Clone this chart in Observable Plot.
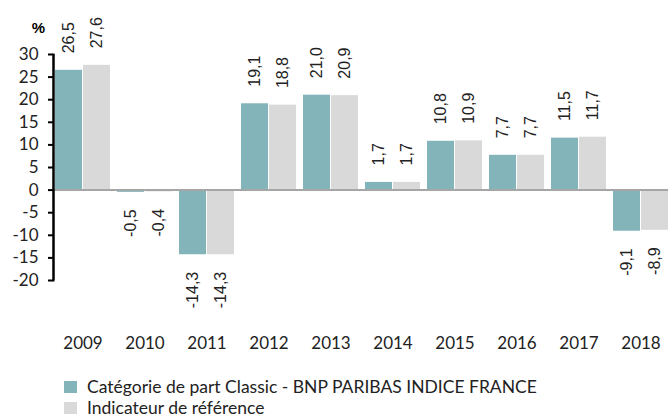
<!DOCTYPE html>
<html>
<head>
<meta charset="utf-8">
<script src="https://cdn.jsdelivr.net/npm/d3@7"></script>
<script src="https://cdn.jsdelivr.net/npm/@observablehq/plot@0.6"></script>
<style>
  html, body { margin: 0; padding: 0; background: #fff; }
  #chart svg { display: block; overflow: visible; }
  .legend { font-family: Lato, "Open Sans", sans-serif; font-size: 17.5px; color: #222; margin-left: 64px; margin-top: 0px; }
  .legend .row { display: flex; align-items: center; height: 21px; }
  .legend .sw { width: 13px; height: 12px; margin-right: 10px; }
</style>
</head>
<body>
<div id="chart"></div>
<div class="legend">
  <div class="row"><span class="sw" style="background:#82b4ba"></span><span>Catégorie de part Classic - BNP PARIBAS INDICE FRANCE</span></div>
  <div class="row"><span class="sw" style="background:#d9d9d9"></span><span>Indicateur de référence</span></div>
</div>
<script>
const years = ["2009","2010","2011","2012","2013","2014","2015","2016","2017","2018"];
const fund  = [26.5, -0.5, -14.3, 19.1, 21.0, 1.7, 10.8, 7.7, 11.5, -9.1];
const bench = [27.6, -0.4, -14.3, 18.8, 20.9, 1.7, 10.9, 7.7, 11.7, -8.9];
const yTicks = [-20, -15, -10, -5, 0, 5, 10, 15, 20, 25, 30];

const teal = "#82b4ba";
const grey = "#d9d9d9";

const data = years.map((y, i) => ({year: y, fund: fund[i], bench: bench[i]}));
const fmt = v => v.toFixed(1).replace(".", ",");

const marginLeft = 53;
const xRange = [52, 672];
const pIn = 0.11, pOut = 0.055;
const xs = d3.scaleBand(years, xRange).paddingInner(pIn).paddingOuter(pOut).round(true);
const bw = xs.bandwidth();
const half = bw / 2;
const axisDx = marginLeft - (xs(years[0]) + half);

const H = 376;
const yTop = 54, yBot = 280;

const labelFont = "'Liberation Sans', Arial, sans-serif";

const chart = Plot.plot({
  width: 668,
  height: H,
  marginLeft,
  marginRight: 0,
  marginTop: yTop,
  marginBottom: H - yBot,
  style: {fontFamily: "Lato, 'Open Sans', sans-serif", fontSize: "17px", color: "#222"},
  x: {domain: years, range: xRange, paddingInner: pIn, paddingOuter: pOut, label: null},
  y: {domain: [-20, 30], range: [yBot, yTop], ticks: yTicks, label: null},
  marks: [
    Plot.barY(data, {x: "year", y: "fund", fill: teal, insetRight: half + 0.5}),
    Plot.barY(data, {x: "year", y: "bench", fill: grey, insetLeft: half + 0.5}),
    Plot.ruleY([0], {stroke: "#a6a6a6", strokeWidth: 2}),
    Plot.axisY({ticks: yTicks, tickSize: 5, tickPadding: 10, tickFormat: d => String(d), strokeWidth: 2, stroke: "#000", fontSize: 17}),
    Plot.frame({anchor: "left", stroke: "#000", strokeWidth: 2}),
    Plot.ruleX([years[0]], {x: d => d, y1: -20, y2: 30, dx: axisDx, stroke: "#000", strokeWidth: 2}),
    Plot.axisX({tickSize: 0, tickPadding: 56, fontSize: 17}),
    Plot.text(data.filter(d => d.fund >= 0), {x: "year", y: "fund", text: d => fmt(d.fund), rotate: -90, textAnchor: "start", dx: -half/2, dy: -17, fontSize: 16, fontFamily: labelFont, fill: "#222"}),
    Plot.text(data.filter(d => d.fund < 0), {x: "year", y: "fund", text: d => fmt(d.fund), rotate: -90, textAnchor: "end", dx: -half/2, dy: 17, fontSize: 16, fontFamily: labelFont, fill: "#222"}),
    Plot.text(data.filter(d => d.bench >= 0), {x: "year", y: "bench", text: d => fmt(d.bench), rotate: -90, textAnchor: "start", dx: half/2, dy: -17, fontSize: 16, fontFamily: labelFont, fill: "#222"}),
    Plot.text(data.filter(d => d.bench < 0), {x: "year", y: "bench", text: d => fmt(d.bench), rotate: -90, textAnchor: "end", dx: half/2, dy: 17, fontSize: 16, fontFamily: labelFont, fill: "#222"}),
    Plot.text(["%"], {frameAnchor: "top-left", textAnchor: "middle", lineAnchor: "middle", dx: -15, dy: -26, fontWeight: "bold", fontSize: 15, fill: "#000", fontFamily: labelFont})
  ]
});
document.getElementById("chart").appendChild(chart);
</script>
</body>
</html>
